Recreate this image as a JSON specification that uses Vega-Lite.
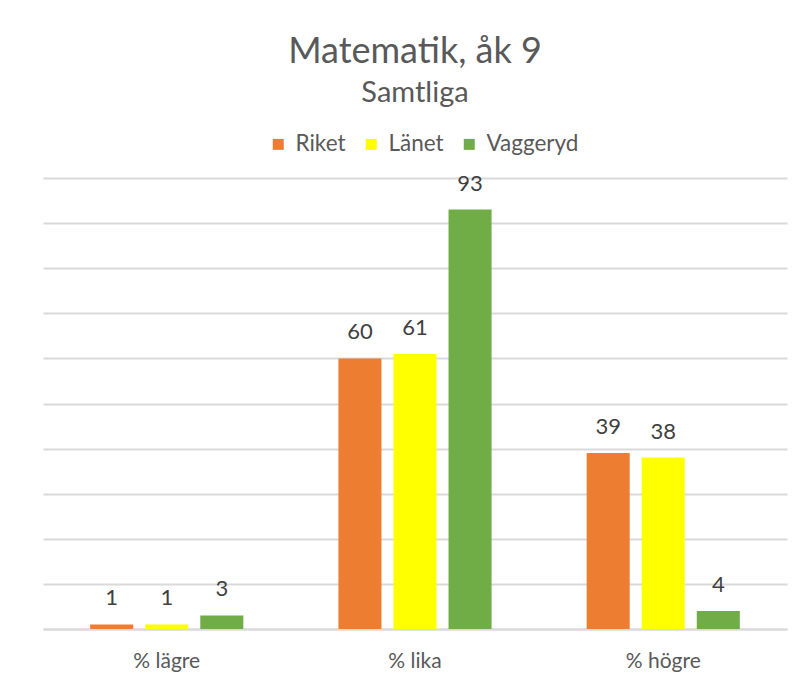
{
  "$schema": "https://vega.github.io/schema/vega-lite/v6.json",
  "width": 744,
  "height": 451,
  "autosize": {"type": "none"},
  "padding": {"left": 43, "top": 178, "right": 15, "bottom": 71},
  "background": "white",
  "title": {
    "text": "Matematik, åk 9",
    "subtitle": "Samtliga",
    "anchor": "middle",
    "frame": "group",
    "font": "Lato",
    "fontSize": 36,
    "fontWeight": "normal",
    "color": "#595959",
    "subtitleFont": "Lato",
    "subtitleFontSize": 29,
    "subtitleColor": "#595959",
    "subtitlePadding": 8,
    "offset": 24
  },
  "data": {
    "values": [
      {"cat": "% lägre", "series": "Riket", "value": 1},
      {"cat": "% lägre", "series": "Länet", "value": 1},
      {"cat": "% lägre", "series": "Vaggeryd", "value": 3},
      {"cat": "% lika", "series": "Riket", "value": 60},
      {"cat": "% lika", "series": "Länet", "value": 61},
      {"cat": "% lika", "series": "Vaggeryd", "value": 93},
      {"cat": "% högre", "series": "Riket", "value": 39},
      {"cat": "% högre", "series": "Länet", "value": 38},
      {"cat": "% högre", "series": "Vaggeryd", "value": 4}
    ]
  },
  "encoding": {
    "x": {
      "field": "cat",
      "type": "nominal",
      "sort": ["% lägre", "% lika", "% högre"],
      "scale": {"paddingInner": 0.383, "paddingOuter": 0.19},
      "title": null,
      "axis": {
        "labelAngle": 0,
        "labelFont": "Lato",
        "labelFontSize": 21,
        "labelColor": "#595959",
        "labelPadding": 21,
        "ticks": false,
        "domain": true,
        "domainColor": "#D9D9D9",
        "domainWidth": 2
      }
    },
    "xOffset": {
      "field": "series",
      "type": "nominal",
      "sort": ["Riket", "Länet", "Vaggeryd"],
      "scale": {"paddingInner": 0.218, "paddingOuter": 0}
    },
    "y": {
      "field": "value",
      "type": "quantitative",
      "scale": {"domain": [0, 100]},
      "title": null,
      "axis": {
        "values": [0, 10, 20, 30, 40, 50, 60, 70, 80, 90, 100],
        "labels": false,
        "ticks": false,
        "domain": false,
        "grid": true,
        "gridColor": "#D9D9D9",
        "gridWidth": 2
      }
    }
  },
  "layer": [
    {
      "mark": {"type": "bar"},
      "encoding": {
        "color": {
          "field": "series",
          "type": "nominal",
          "sort": ["Riket", "Länet", "Vaggeryd"],
          "scale": {
            "domain": ["Riket", "Länet", "Vaggeryd"],
            "range": ["#ED7D31", "#FFFF00", "#70AD47"]
          },
          "legend": {
            "title": null,
            "orient": "none",
            "direction": "horizontal",
            "legendX": 224,
            "legendY": -45,
            "symbolType": "square",
            "symbolSize": 121,
            "symbolStrokeWidth": 0,
            "labelFont": "Lato",
            "labelFontSize": 22.5,
            "labelColor": "#595959",
            "columnPadding": 14,
            "labelOffset": 6
          }
        }
      }
    },
    {
      "mark": {"type": "text", "baseline": "bottom", "dy": -14, "font": "Lato", "fontSize": 22, "color": "#404040"},
      "encoding": {
        "text": {"field": "value", "type": "quantitative"}
      }
    }
  ],
  "config": {
    "view": {"stroke": null}
  }
}
